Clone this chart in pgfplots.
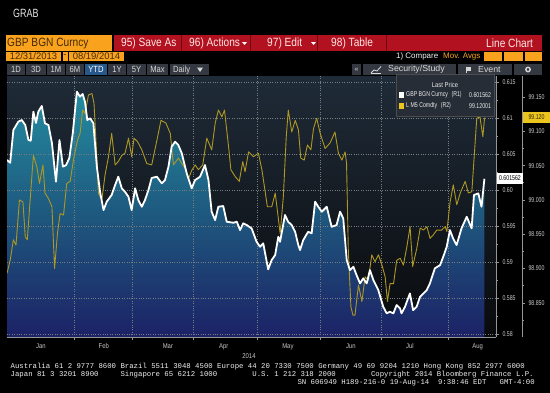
\documentclass[border=0pt]{standalone}
\usepackage{pgfplots}
\pgfplotsset{compat=1.18}
\usepackage{pgfplotstable}
\usepackage{fontspec}
\setmainfont{Liberation Sans}
\newfontfamily\bb[FakeStretch=0.85]{Liberation Sans}
\newfontfamily\bbn[FakeStretch=0.75]{Liberation Sans}
\newfontfamily\mono{Liberation Mono}
\newcommand\fs[1]{\fontsize{#1}{#1}\selectfont}
\definecolor{bbred}{RGB}{178,18,32}
\definecolor{bbdred}{RGB}{110,8,16}
\definecolor{bborange}{RGB}{248,162,30}
\definecolor{bbtxt}{RGB}{70,42,0}
\definecolor{btn}{RGB}{52,57,65}
\definecolor{btntxt}{RGB}{215,215,215}
\definecolor{btnblue}{RGB}{38,88,140}
\definecolor{bgtop}{RGB}{31,43,56}
\definecolor{bgbot}{RGB}{9,10,12}
\definecolor{filltop}{RGB}{36,140,160}
\definecolor{fillmid}{RGB}{30,88,126}
\definecolor{fillbot}{RGB}{28,34,102}
\definecolor{yel}{RGB}{174,152,36}
\definecolor{tagyel}{RGB}{236,196,30}
\definecolor{ticktxt}{RGB}{200,200,200}
\definecolor{axgray}{RGB}{150,150,150}
\definecolor{gridgray}{RGB}{120,125,130}
\definecolor{legbg}{RGB}{38,45,54}

\pgfplotstableread{
x y
0.3 0.60417
1.4 0.60379
2.5 0.60833
4.2 0.60949
5.4 0.60972
6.6 0.60903
7.7 0.60694
8.5 0.60685
9.4 0.61088
10.3 0.60931
11.1 0.61088
12.3 0.61167
13.4 0.60926
14.6 0.60903
15.8 0.60653
17.2 0.60115
18.4 0.60694
19.6 0.60324
20.7 0.60347
21.8 0.60444
23.0 0.60792
24.4 0.61365
25.5 0.61296
26.4 0.61333
27.2 0.61226
28.0 0.60972
29.0 0.60996
30.1 0.60926
31.3 0.60324
32.4 0.59976
33.6 0.59722
34.7 0.59838
36.4 0.59931
37.6 0.60069
38.7 0.60185
39.9 0.60024
41.0 0.59976
42.2 0.59907
43.3 0.59722
44.5 0.60024
45.6 0.59861
46.8 0.59768
47.9 0.59861
49.1 0.60000
50.2 0.60167
52.0 0.60185
53.7 0.60093
54.8 0.60139
56.0 0.60324
57.1 0.60601
58.3 0.60671
59.4 0.60625
60.6 0.60510
62.3 0.60232
64.0 0.60024
65.2 0.60139
66.9 0.60185
68.6 0.60347
69.8 0.60139
70.9 0.59699
72.1 0.59583
73.2 0.59768
74.9 0.59778
76.1 0.59560
78.4 0.59546
79.6 0.59560
80.7 0.59444
81.8 0.59538
83.0 0.59514
84.7 0.59468
86.4 0.59282
87.6 0.59213
88.7 0.59260
90.4 0.58899
91.6 0.59028
92.8 0.59097
93.9 0.59351
94.5 0.59282
96.2 0.59653
97.3 0.59560
98.5 0.59514
99.7 0.59421
100.8 0.59236
101.4 0.59167
102.5 0.59306
104.2 0.59421
105.4 0.59399
106.6 0.59838
107.7 0.59768
108.9 0.59699
110.6 0.59768
112.3 0.59490
114.0 0.59514
115.2 0.59699
116.3 0.59607
117.5 0.59028
118.6 0.58889
119.8 0.58935
120.9 0.58819
122.1 0.58704
123.2 0.58774
124.4 0.58704
125.5 0.58889
126.7 0.58750
128.4 0.58611
130.1 0.58379
131.3 0.58288
132.4 0.58310
133.6 0.58288
134.7 0.58403
135.9 0.58357
136.4 0.58288
137.6 0.58379
139.3 0.58565
140.4 0.58333
141.6 0.58379
142.8 0.58518
145.1 0.58611
146.2 0.58704
147.9 0.58913
149.7 0.58958
150.8 0.59074
152.0 0.59213
153.1 0.59444
154.2 0.59329
155.4 0.59236
157.1 0.59468
158.9 0.59629
160.6 0.59468
161.4 0.59931
162.9 0.59954
164.0 0.59768
165.0 0.601562
}\gbp

\pgfplotstableread{
x y
0.3 98.893
1.4 98.912
2.5 98.942
3.4 98.934
4.6 99.000
5.8 98.997
6.6 98.946
7.3 98.942
9.4 99.065
10.6 99.048
11.5 99.024
12.7 99.051
13.4 99.010
14.6 99.002
15.8 98.990
16.7 98.900
17.7 98.951
18.6 98.980
19.8 98.978
20.9 99.024
22.1 99.027
23.2 99.058
24.6 99.087
25.5 99.097
26.4 99.131
27.2 99.126
28.4 99.153
29.6 99.155
30.3 99.141
31.3 99.061
31.8 99.010
33.0 99.000
34.1 99.036
35.3 99.063
36.4 99.097
37.6 99.051
38.7 99.056
39.9 99.065
41.0 99.068
42.2 99.090
43.3 99.063
44.1 99.090
45.3 99.085
46.8 99.073
48.5 99.053
50.2 99.051
52.0 99.087
53.4 99.116
55.1 99.112
56.6 99.097
57.7 99.051
59.4 99.061
60.6 99.053
61.7 99.046
62.9 99.031
64.0 99.043
65.2 99.051
66.3 99.044
67.8 99.051
69.2 99.090
70.9 99.073
72.1 99.112
73.2 99.131
74.4 99.121
75.3 99.131
76.7 99.078
77.5 99.044
79.0 99.034
80.4 99.027
81.6 99.056
82.4 99.041
83.6 99.070
85.3 99.063
87.0 99.068
88.2 99.044
90.1 98.990
91.6 98.990
92.8 99.010
94.5 98.951
95.6 99.005
96.6 99.092
97.3 99.131
98.5 99.099
99.7 99.116
100.8 99.102
101.6 99.061
102.8 99.058
103.9 99.080
105.1 99.073
106.0 99.104
107.1 99.119
108.3 99.097
110.0 99.075
111.7 99.083
113.4 99.099
114.6 99.068
115.8 99.058
116.9 99.070
117.4 99.053
118.0 98.927
118.9 98.844
119.6 98.832
120.3 98.832
121.5 98.876
122.7 98.852
123.8 98.888
124.9 98.883
126.1 98.920
127.2 98.910
128.4 98.920
129.6 98.905
130.7 98.888
131.5 98.852
132.4 98.878
133.6 98.878
134.7 98.912
135.9 98.915
137.0 98.905
138.2 98.932
139.3 98.961
140.2 98.903
141.6 98.929
142.8 98.959
143.9 98.956
145.1 98.961
146.2 98.944
147.3 98.949
148.5 98.956
150.2 98.956
151.4 98.961
152.0 98.954
153.1 98.997
154.2 99.022
155.4 98.993
156.6 99.010
158.3 99.027
159.4 99.010
160.6 99.012
162.3 99.119
163.4 99.121
164.4 99.092
165.0 99.120
}\lm

\begin{document}
\begin{tikzpicture}
\useasboundingbox (0,0) rectangle (550bp,-393bp);
\fill[black] (0,0) rectangle (550bp,-393bp);

\begin{scope}[x=1bp,y=-1bp]
% title
\node[anchor=west,inner sep=0,text=white!80!gray,font=\bbn\fs{12}] at (13,13) {GRAB};
% row 1
\fill[bborange] (6,35) rectangle (112,51);
\node[anchor=west,inner sep=0,text=bbtxt,font=\bb\fs{12}] at (7,43.5) {GBP BGN Curncy};
\fill[bbred] (114,35) rectangle (542,51);
\foreach \x in {181,250,317,386} \draw[bbdred,line width=1bp] (\x,35)--(\x,51);
\node[anchor=west,inner sep=0,text=white!90!red,font=\bb\fs{12}] at (121,43.5) {95) Save As};
\node[anchor=west,inner sep=0,text=white!90!red,font=\bb\fs{12}] at (189,43.5) {96) Actions};
\node[anchor=west,inner sep=0,text=white!90!red,font=\bb\fs{12}] at (267,43.5) {97) Edit};
\node[anchor=west,inner sep=0,text=white!90!red,font=\bb\fs{12}] at (331,43.5) {98) Table};
\node[anchor=west,inner sep=0,text=white!90!red,font=\bb\fs{12}] at (486,43.5) {Line Chart};
\fill[white] (242,42) -- (247,42) -- (244.5,45) -- cycle;
\fill[white] (311,42) -- (316,42) -- (313.5,45) -- cycle;
% row 2
\fill[bborange] (6,52) rectangle (61,60.5);
\fill[bborange] (62.5,52) rectangle (67.5,60.5);
\fill[bborange] (69,52) rectangle (123.5,60.5);
\node[inner sep=0,text=bbtxt,font=\fs{9.5}] at (33.5,56.3) {12/31/2013};
\node[inner sep=0,text=bbtxt,font=\fs{9.5}] at (65,56.3) {-};
\node[inner sep=0,text=bbtxt,font=\fs{9.5}] at (96.5,56.3) {08/19/2014};
\node[anchor=west,inner sep=0,text=white!90!gray,font=\fs{8}] at (396,56.3) {1) Compare};
\node[anchor=west,inner sep=0,text=bborange,font=\fs{8}] at (443,56.3) {Mov. Avgs};
\fill[bborange] (484,52) rectangle (502,60.5);
\fill[bborange] (504,52) rectangle (523,60.5);
\fill[bborange] (524.5,52) rectangle (542,60.5);
% row 3
\foreach \a/\b/\t in {7/25/1D,26/46/3D,47/65/1M,66/84/6M,108/126/1Y,127/146/5Y,147/168/Max}{
  \fill[btn] (\a,64) rectangle (\b,75);
  \node[inner sep=0,text=btntxt,font=\bb\fs{9}] at ({(\a+\b)/2},69.7) {\t};}
\fill[btnblue] (85,64) rectangle (107,75);
\node[inner sep=0,text=white,font=\bb\fs{9}] at (96,69.7) {YTD};
\fill[btn] (170,64) rectangle (209,75);
\node[anchor=west,inner sep=0,text=btntxt,font=\bb\fs{9}] at (173,69.7) {Daily};
\fill[btntxt] (197,67.5) -- (203,67.5) -- (200,72) -- cycle;
\fill[btn] (352,64) rectangle (361,75);
\node[inner sep=0,text=btntxt,font=\fs{7}] at (356.5,69.7) {«};
\fill[btn] (363,64) rectangle (456,75);
\draw[btntxt,line width=0.8bp] (371,73)--(374,70)--(377,71)--(381,66.5);
\draw[btntxt,line width=0.6bp] (371,73.5)--(381,73.5);
\node[anchor=west,inner sep=0,text=btntxt,font=\fs{8.8}] at (388,69.7) {Security/Study};
\fill[btn] (458,64) rectangle (512,75);
\fill[btntxt] (466,66.5) rectangle (471,70.5);
\draw[btntxt,line width=0.8bp] (466,66.5)--(466,73);
\node[anchor=west,inner sep=0,text=btntxt,font=\fs{8.8}] at (478,69.7) {Event};
\fill[btn] (514,64) rectangle (542,75);
\draw[btntxt,line width=1.4bp] (528,69.5) circle (2.2);
\end{scope}

% GBP axis: background, fill, grid, R1 axis
\begin{axis}[
  at={(7bp,-76bp)}, anchor=north west, scale only axis,
  width=489bp, height=261bp,
  xmin=0.3, xmax=169, ymin=0.5796, ymax=0.61583,
  axis on top,
  axis x line*=bottom, axis y line*=right,
  axis line style={draw=axgray, line width=0.7bp},
  axis background/.style={top color=bgtop, bottom color=bgbot},
  tick align=outside,
  major tick length=3bp, minor tick length=2bp,
  tick style={draw=axgray, line width=0.6bp},
  xtick={23.5,43.5,64.5,86.5,108.5,129.5,152.5},
  xticklabels={,,,,,,},
  xmajorgrids, ymajorgrids,
  grid style={dotted, draw=gridgray, line width=0.5bp},
  extra x ticks={12,33.7,55.8,75.1,97.2,118.9,139.3,162.7},
  extra x tick labels={Jan,Feb,Mar,Apr,May,Jun,Jul,Aug},
  extra x tick style={grid=none, major tick length=0pt},
  xticklabel style={font=\bb\fs{7}, text=ticktxt, yshift=-2.5bp, text height=5.2bp, text depth=1.5bp},
  ytick={0.58,0.585,0.59,0.595,0.6,0.605,0.61,0.615},
  yticklabels={0.58,0.585,0.59,0.595,0.60,0.605,0.61,0.615},
  minor y tick num=1,
  yticklabel style={font=\bbn\fs{7}, text=ticktxt},
]
\addplot[draw=none, top color=filltop, bottom color=fillbot, middle color=fillmid]
  table {\gbp} -- (axis cs:165,0.5796) -- (axis cs:0.3,0.5796) -- cycle;
\end{axis}

% L M5 axis (R2)
\begin{axis}[
  at={(7bp,-76bp)}, anchor=north west, scale only axis,
  width=515bp, height=261bp,
  xmin=0.3, xmax=177.9, ymin=98.8002, ymax=99.1806,
  axis x line=none, axis y line*=right,
  axis line style={draw=axgray, line width=0.7bp},
  tick align=outside, major tick length=3bp, minor tick length=2bp,
  tick style={draw=axgray, line width=0.6bp},
  ytick={98.8,98.85,98.9,98.95,99,99.05,99.1,99.15},
  yticklabels={,98.850,98.900,98.950,99.000,99.050,99.100,99.150},
  minor y tick num=1,
  yticklabel style={font=\bbn\fs{7}, text=ticktxt},
]
\addplot[yel, line width=0.9bp, line join=round] table {\lm};
\end{axis}

% GBP line on top
\begin{axis}[
  at={(7bp,-76bp)}, anchor=north west, scale only axis,
  width=489bp, height=261bp,
  xmin=0.3, xmax=169, ymin=0.5796, ymax=0.61583,
  hide axis,
]
\addplot[white, line width=1.8bp, line join=round] table {\gbp};
\end{axis}

\begin{scope}[x=1bp,y=-1bp]
% legend
\fill[legbg] (396,74) rectangle (494,116);
\draw[gray!60!black,line width=0.5bp] (396,74) rectangle (494,116);
\node[inner sep=0,text=white!85!gray,font=\bb\fs{7}] at (445,85.5) {Last Price};
\fill[white] (399,92) rectangle (403.5,97.5);
\fill[tagyel] (399,103) rectangle (403.5,108.5);
\node[anchor=west,inner sep=0,text=white!85!gray,font=\bbn\fs{7}] at (406,95) {GBP BGN Curncy\enspace(R1)};
\node[anchor=west,inner sep=0,text=white!85!gray,font=\bbn\fs{7}] at (406,106) {L M5 Comdty\enspace(R2)};
\node[anchor=west,inner sep=0,text=white!85!gray,font=\bbn\fs{7}] at (469,95) {0.601562};
\node[anchor=west,inner sep=0,text=white!85!gray,font=\bbn\fs{7}] at (469,106) {99.12001};
% last price tags
\fill[white] (497,173) rectangle (523,183.5);
\node[inner sep=0,text=black,font=\bbn\fs{7}] at (510,178.3) {0.601562};
\fill[tagyel] (522.5,112) rectangle (550,123);
\node[inner sep=0,text=black!80!tagyel,font=\bbn\fs{7}] at (536.5,117.5) {99.120};
% year
\node[inner sep=0,text=ticktxt,font=\bb\fs{7}] at (249,356) {2014};
% footer
\node[anchor=west,inner sep=0,text=white!88!gray,font=\mono\fs{7.35}] at (10.5,366.6)
 {Australia 61 2 9777 8600 Brazil 5511 3048 4500 Europe 44 20 7330 7500 Germany 49 69 9204 1210 Hong Kong 852 2977 6000};
\node[anchor=west,inner sep=0,text=white!88!gray,font=\mono\fs{7.35}] at (10.5,375)
 {Japan 81 3 3201 8900~~~~~Singapore 65 6212 1000~~~~~~~~U.S. 1 212 318 2000~~~~~~~~Copyright 2014 Bloomberg Finance L.P.};
\node[anchor=east,inner sep=0,text=white!88!gray,font=\mono\fs{7.35}] at (535,383.2)
 {SN 606949 H189-216-0 19-Aug-14~~9:38:46 EDT~~~GMT-4:00};
\end{scope}
\end{tikzpicture}
\end{document}
